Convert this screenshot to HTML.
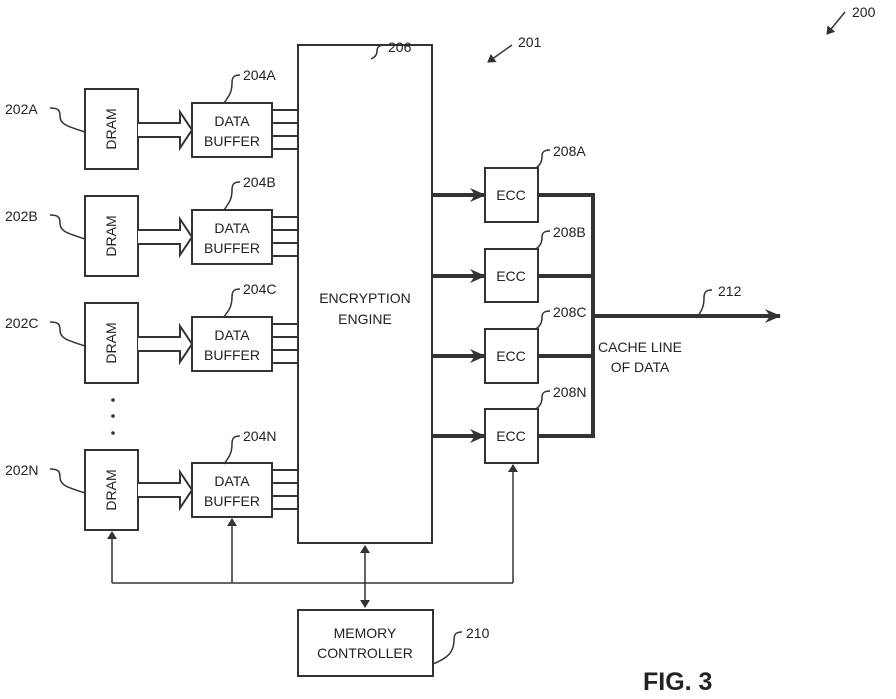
<!DOCTYPE html>
<html><head><style>
html,body{margin:0;padding:0;background:#fff;}
svg{display:block;}
text{font-family:"Liberation Sans",sans-serif;fill:#222;}
</style></head><body>
<svg width="896" height="699" viewBox="0 0 896 699" xmlns="http://www.w3.org/2000/svg">
<defs>
<marker id="sa" markerWidth="8" markerHeight="10" refX="7" refY="5" orient="auto" markerUnits="userSpaceOnUse"><path d="M0,0 L8,5 L0,10 Z" fill="#333"/></marker>
<marker id="sb" markerWidth="8" markerHeight="10" refX="1" refY="5" orient="auto" markerUnits="userSpaceOnUse"><path d="M8,0 L0,5 L8,10 Z" fill="#333"/></marker>
<marker id="ta" markerWidth="16" markerHeight="16" refX="15" refY="8" orient="auto" markerUnits="userSpaceOnUse"><path d="M0,1 L16,8 L0,15 L5,8 Z" fill="#333"/></marker>
</defs>
<g fill="none" stroke="#333" stroke-width="2">
<rect x="85" y="89" width="53" height="80" fill="#fff"/>
<rect x="85" y="196" width="53" height="80" fill="#fff"/>
<rect x="85" y="303" width="53" height="80" fill="#fff"/>
<rect x="85" y="450" width="53" height="80" fill="#fff"/>
<rect x="192" y="103" width="80" height="54"/>
<rect x="192" y="210" width="80" height="54"/>
<rect x="192" y="317" width="80" height="54"/>
<rect x="192" y="463" width="80" height="54"/>
<rect x="298" y="45" width="134" height="498"/>
<rect x="485" y="168" width="53" height="54"/>
<rect x="485" y="249" width="53" height="53"/>
<rect x="485" y="329" width="53" height="54"/>
<rect x="485" y="409" width="53" height="54"/>
<rect x="298" y="610" width="135" height="66"/>
</g>
<g fill="#fff" stroke="#333" stroke-width="2" stroke-linejoin="miter">
<path d="M138,123 H180 V112 L192,130 L180,148 V137 H138"/>
<path d="M138,230 H180 V219 L192,237 L180,255 V244 H138"/>
<path d="M138,337 H180 V326 L192,344 L180,362 V351 H138"/>
<path d="M138,483 H180 V472 L192,490 L180,508 V497 H138"/>
</g>
<g stroke="#333" stroke-width="2">
<path d="M272,110H298M272,123H298M272,136H298M272,149H298"/>
<path d="M272,217H298M272,230H298M272,243H298M272,256H298"/>
<path d="M272,324H298M272,337H298M272,350H298M272,363H298"/>
<path d="M272,470H298M272,483H298M272,496H298M272,509H298"/>
</g>
<g stroke="#333" stroke-width="4" fill="none">
<line x1="432" y1="195" x2="485" y2="195" marker-end="url(#ta)"/>
<line x1="432" y1="276" x2="485" y2="276" marker-end="url(#ta)"/>
<line x1="432" y1="356" x2="485" y2="356" marker-end="url(#ta)"/>
<line x1="432" y1="436" x2="485" y2="436" marker-end="url(#ta)"/>
<path d="M538,195H593V436H538M538,276H593M538,356H593"/>
<line x1="593" y1="316" x2="780" y2="316" marker-end="url(#ta)"/>
</g>
<g stroke="#333" stroke-width="1.5" fill="none">
<path d="M112,583H513"/>
<line x1="112" y1="583" x2="112" y2="532" marker-end="url(#sa)"/>
<line x1="232" y1="583" x2="232" y2="519" marker-end="url(#sa)"/>
<line x1="513" y1="583" x2="513" y2="465" marker-end="url(#sa)"/>
<line x1="365" y1="546" x2="365" y2="607" marker-start="url(#sb)" marker-end="url(#sa)"/>
</g>
<g fill="#333"><circle cx="113" cy="400" r="1.8"/><circle cx="113" cy="416" r="1.8"/><circle cx="113" cy="433" r="1.8"/></g>
<g stroke="#333" stroke-width="1.5" fill="none">
<path d="M50,108 c8,0 10,2 10,8 c0,8 6,10 25,16"/>
<path d="M50,215 c8,0 10,2 10,8 c0,8 6,10 25,16"/>
<path d="M50,322 c8,0 10,2 10,8 c0,8 6,10 25,16"/>
<path d="M50,469 c8,0 10,2 10,8 c0,8 6,10 25,16"/>
<path d="M240,75 c-6,0 -8,2 -8,8 c0,8 -2,12 -8,20"/>
<path d="M240,182 c-6,0 -8,2 -8,8 c0,8 -2,12 -8,20"/>
<path d="M240,289 c-6,0 -8,2 -8,8 c0,8 -2,12 -8,20"/>
<path d="M240,436 c-6,0 -8,2 -8,8 c0,8 -2,12 -8,20"/>
<path d="M385,45 c-6,0 -8,2 -8,6 c0,4 -2,6 -6,8"/>
<path d="M550,150 c-6,0 -8,2 -8,6 c0,6 -2,9 -6,12"/>
<path d="M550,231 c-6,0 -8,2 -8,6 c0,6 -2,9 -6,12"/>
<path d="M550,311 c-6,0 -8,2 -8,6 c0,6 -2,9 -6,12"/>
<path d="M550,391 c-6,0 -8,2 -8,6 c0,6 -2,9 -6,12"/>
<path d="M712,290 c-6,0 -8,2 -8,8 c0,8 -2,12 -6,18"/>
<path d="M462,632 c-6,0 -8,2 -8,8 c0,12 -6,18 -21,24"/>
</g>
<line x1="512" y1="45" x2="488" y2="62" stroke="#333" stroke-width="1.5" marker-end="url(#sa)"/>
<line x1="845" y1="12" x2="827" y2="34" stroke="#333" stroke-width="1.5" marker-end="url(#sa)"/>
<g font-size="14">
<text x="5" y="114">202A</text><text x="5" y="221">202B</text><text x="5" y="328">202C</text><text x="5" y="475">202N</text>
<text x="243" y="80">204A</text><text x="243" y="187">204B</text><text x="243" y="294">204C</text><text x="243" y="441">204N</text>
<text x="388" y="52">206</text><text x="518" y="47">201</text><text x="852" y="17">200</text>
<text x="553" y="156">208A</text><text x="553" y="237">208B</text><text x="553" y="317">208C</text><text x="553" y="397">208N</text>
<text x="718" y="296">212</text><text x="466" y="638">210</text>
</g>
<g font-size="14" text-anchor="middle">
<text transform="translate(116,129) rotate(-90)">DRAM</text>
<text transform="translate(116,236) rotate(-90)">DRAM</text>
<text transform="translate(116,343) rotate(-90)">DRAM</text>
<text transform="translate(116,490) rotate(-90)">DRAM</text>
<text x="232" y="126">DATA</text><text x="232" y="146">BUFFER</text>
<text x="232" y="233">DATA</text><text x="232" y="253">BUFFER</text>
<text x="232" y="340">DATA</text><text x="232" y="360">BUFFER</text>
<text x="232" y="486">DATA</text><text x="232" y="506">BUFFER</text>
<text x="365" y="303">ENCRYPTION</text><text x="365" y="324">ENGINE</text>
<text x="511" y="200">ECC</text><text x="511" y="281">ECC</text><text x="511" y="361">ECC</text><text x="511" y="441">ECC</text>
<text x="365" y="638">MEMORY</text><text x="365" y="658">CONTROLLER</text>
<text x="640" y="352">CACHE LINE</text><text x="640" y="372">OF DATA</text>
</g>
<text x="643" y="690" font-size="25" font-weight="bold">FIG. 3</text>
</svg>
</body></html>
